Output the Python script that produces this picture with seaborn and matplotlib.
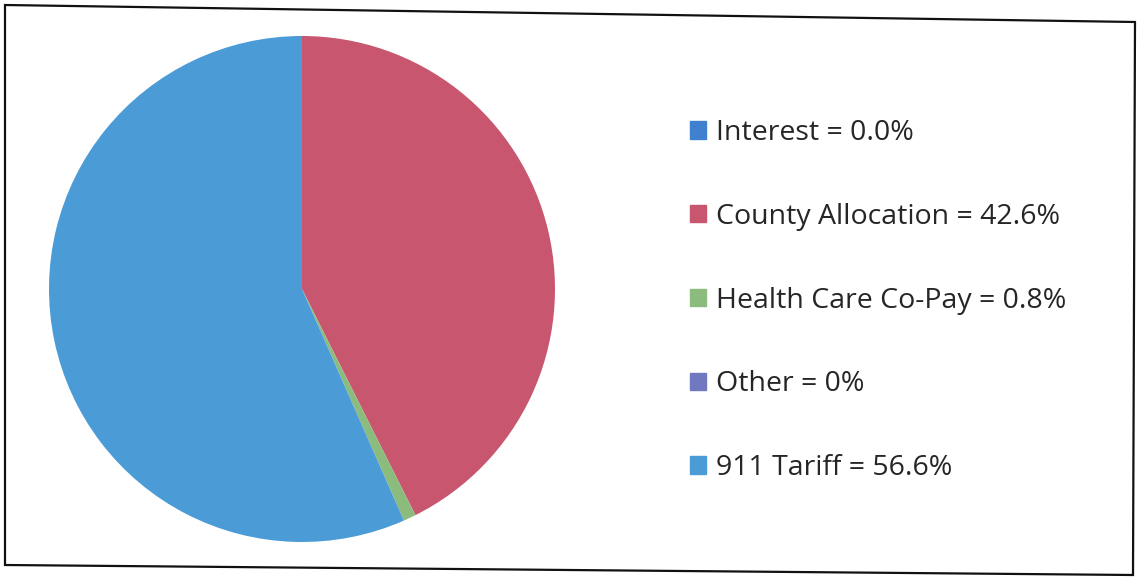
import matplotlib
matplotlib.use("Agg")
import matplotlib.pyplot as plt
import seaborn as sns
from matplotlib.patches import Patch, Polygon

sns.set_theme(style="white")
plt.rcParams["font.family"] = ["Open Sans", "DejaVu Sans"]

# Revenue sources and their shares (%)
categories = ["Interest", "County Allocation", "Health Care Co-Pay", "Other", "911 Tariff"]
shares = [0.0, 42.6, 0.8, 0.0, 56.6]
share_labels = ["0.0%", "42.6%", "0.8%", "0%", "56.6%"]
colors = ["#3F80CF", "#C9566F", "#8CBB7E", "#7078C0", "#4A9BD6"]

W, H = 1140, 577
fig = plt.figure(figsize=(W / 100, H / 100), dpi=100)
fig.patch.set_facecolor("white")

# Pie axes
cx, cy, r = 302, 289, 253
ax = fig.add_axes([(cx - r) / W, (H - cy - r) / H, 2 * r / W, 2 * r / H])
ax.pie(shares, colors=colors, startangle=90, counterclock=False,
       wedgeprops=dict(linewidth=0))
ax.set_xlim(-1, 1)
ax.set_ylim(-1, 1)
ax.set_aspect("equal")
ax.axis("off")

# Legend
handles = [Patch(facecolor=c, edgecolor=c) for c in colors]
labels = [f"{c} = {s}" for c, s in zip(categories, share_labels)]
fig.legend(handles, labels, loc="upper left",
           bbox_to_anchor=(690 / W, 1 - 119 / H), frameon=False,
           borderaxespad=0, borderpad=0,
           fontsize=20.5, labelspacing=1.96, handlelength=0.56,
           handleheight=0.56, handletextpad=0.35, labelcolor="#262626")

# Slightly skewed outer border
corners = [(5, 5), (1135, 22), (1133, 575), (5, 565)]
border = Polygon([(x / W, 1 - y / H) for x, y in corners], closed=True,
                 fill=False, edgecolor="#111111", linewidth=1.6,
                 transform=fig.transFigure)
fig.add_artist(border)

fig.savefig("out.png", dpi=100)
